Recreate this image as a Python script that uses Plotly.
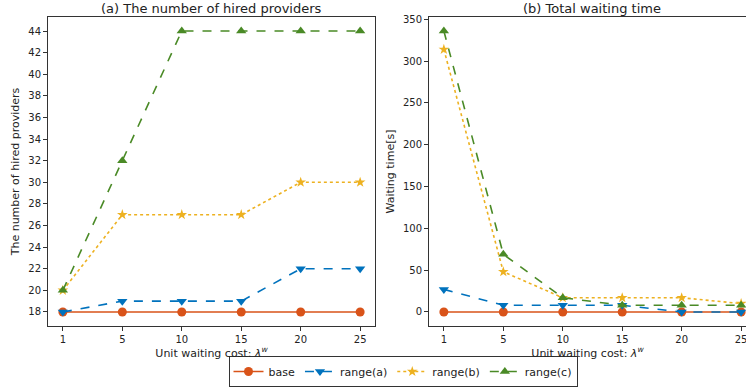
import plotly.graph_objects as go

categories = ["1", "5", "10", "15", "20", "25"]

hired_base = [18, 18, 18, 18, 18, 18]
hired_a = [18, 19, 19, 19, 22, 22]
hired_b = [20, 27, 27, 27, 30, 30]
hired_c = [20, 32, 44, 44, 44, 44]

wait_base = [0, 0, 0, 0, 0, 0]
wait_a = [27, 8, 8, 8, 0, 0]
wait_b = [314, 48, 17, 17, 17, 10]
wait_c = [336, 69, 17, 8, 8, 8]

left_yticks = list(range(18, 45, 2))
right_yticks = [0, 50, 100, 150, 200, 250, 300, 350]

series_names = ["base", "range(a)", "range(b)", "range(c)"]
colors = ["#D95319", "#0072BD", "#EDB120", "#4A8A26"]
dashes = ["solid", "dash", "dot", "dash"]
symbols = ["circle", "triangle-down", "star", "triangle-up"]
msizes = [9, 9, 8, 9]

FONT = "DejaVu Sans"
fig = go.Figure()

left = [hired_base, hired_a, hired_b, hired_c]
right = [wait_base, wait_a, wait_b, wait_c]
for i in range(4):
    fig.add_trace(go.Scatter(
        x=categories, y=left[i], name=series_names[i], mode="lines+markers",
        line=dict(color=colors[i], dash=dashes[i], width=1.6),
        marker=dict(symbol=symbols[i], size=msizes[i], color=colors[i]),
        xaxis="x", yaxis="y", legendgroup=series_names[i], showlegend=True,
        cliponaxis=False))
for i in range(4):
    fig.add_trace(go.Scatter(
        x=categories, y=right[i], name=series_names[i], mode="lines+markers",
        line=dict(color=colors[i], dash=dashes[i], width=1.6),
        marker=dict(symbol=symbols[i], size=msizes[i], color=colors[i]),
        xaxis="x2", yaxis="y2", legendgroup=series_names[i], showlegend=False,
        cliponaxis=False))

W, H = 746, 387


def px_x(p):
    return p / W


def px_y(p):
    return 1 - p / H


ydom = [px_y(326), px_y(17)]
axis_common = dict(showgrid=False, zeroline=False, ticks="outside", ticklen=4,
                   tickcolor="#333", linecolor="#333", linewidth=1, automargin=False,
                   tickfont=dict(family=FONT, size=10, color="#222"))

xtitle = "Unit waiting cost: <i>λ</i><sup><i>w</i></sup>"
fig.update_layout(
    width=W, height=H, margin=dict(l=0, r=0, t=0, b=0, autoexpand=False),
    paper_bgcolor="white", plot_bgcolor="white",
    font=dict(family=FONT, size=11, color="#222"),
    xaxis=dict(domain=[px_x(48), px_x(375)], type="category", range=[-0.25, 5.25],
               showline=True, mirror=True, anchor="y",
               title=dict(text=xtitle, font=dict(family=FONT, size=11), standoff=4),
               **axis_common),
    yaxis=dict(domain=ydom, range=[16.7, 45.3], tickvals=left_yticks,
               showline=True, mirror=True, anchor="x",
               title=dict(text="The number of hired providers",
                          font=dict(family=FONT, size=11), standoff=6),
               **axis_common),
    xaxis2=dict(domain=[px_x(429), 1.0], type="category", range=[-0.25, 5.082],
                showline=True, mirror=True, anchor="y2",
                title=dict(text=xtitle, font=dict(family=FONT, size=11), standoff=4),
                **axis_common),
    yaxis2=dict(domain=ydom, range=[-16.8, 352.8], tickvals=right_yticks,
                showline=True, mirror=False, anchor="x2",
                title=dict(text="Waiting time[s]",
                           font=dict(family=FONT, size=11), standoff=6),
                **axis_common),
    legend=dict(orientation="h", x=px_x(403), xanchor="center", y=px_y(356), yanchor="top",
                bordercolor="#333", borderwidth=1, bgcolor="white",
                font=dict(family=FONT, size=11), itemwidth=30,
                tracegroupgap=0),
    annotations=[
        dict(text="(a) The number of hired providers", x=px_x((48 + 375) / 2), y=px_y(8.5),
             xref="paper", yref="paper", showarrow=False, xanchor="center", yanchor="middle",
             font=dict(family=FONT, size=13, color="#222")),
        dict(text="(b) Total waiting time", x=px_x(592), y=px_y(8.5),
             xref="paper", yref="paper", showarrow=False, xanchor="center", yanchor="middle",
             font=dict(family=FONT, size=13, color="#222")),
    ],
)

# remove the default page margin so the 746x387 figure fills the window exactly
fig.write_html("out.html", config={"displayModeBar": False},
               post_script="document.body.style.margin='0';")
